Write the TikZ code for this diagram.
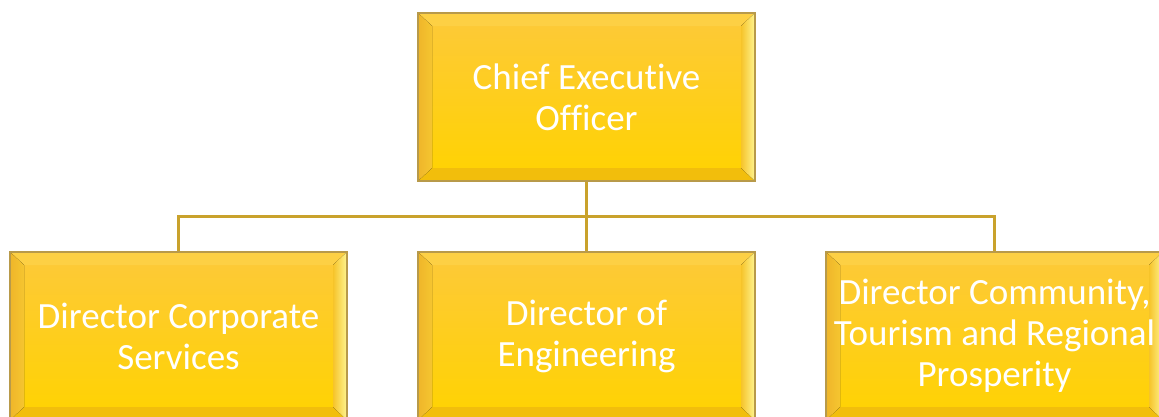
\documentclass[tikz,border=0pt]{standalone}
\usepackage{fontspec}
\setmainfont[Ligatures={NoCommon,NoRequired,NoContextual}]{Carlito}
\definecolor{boxedge}{HTML}{B89A4A}
\definecolor{facetop}{HTML}{FDC93A}
\definecolor{facebot}{HTML}{FFD300}
\definecolor{bevtop}{HTML}{FDD044}
\definecolor{bevbot}{HTML}{F2BE0C}
\definecolor{bevleftout}{HTML}{EFB62A}
\definecolor{bevleftmid}{HTML}{FFE86A}
\definecolor{bevleftin}{HTML}{F5C530}
\definecolor{bevrightin}{HTML}{F6C42A}
\definecolor{bevrightmid}{HTML}{FFF07A}
\definecolor{bevrightout}{HTML}{FFF590}
\definecolor{conncol}{HTML}{C9A22C}
\tikzset{
  bevelbox/.style={
    minimum width=337pt, minimum height=168pt, inner sep=0pt,
    align=center, text=white, font=\fontsize{37}{41}\selectfont,
    draw=boxedge, line width=1.5pt,
    path picture={
      \coordinate (ppA) at (path picture bounding box.north west);
      \coordinate (ppB) at (path picture bounding box.north east);
      \coordinate (ppC) at (path picture bounding box.south east);
      \coordinate (ppD) at (path picture bounding box.south west);
      \coordinate (ppa) at ([shift={(14pt,-13pt)}]ppA);
      \coordinate (ppb) at ([shift={(-14pt,-13pt)}]ppB);
      \coordinate (ppc) at ([shift={(-14pt,13pt)}]ppC);
      \coordinate (ppd) at ([shift={(14pt,13pt)}]ppD);
      \fill[top color=facetop, bottom color=facebot] (ppA) rectangle (ppC);
      \fill[bevtop] (ppA) -- (ppB) -- (ppb) -- (ppa) -- cycle;
      \fill[bevbot] (ppD) -- (ppC) -- (ppc) -- (ppd) -- cycle;
      \fill[left color=bevleftout, middle color=bevleftmid, right color=bevleftin] (ppA) -- (ppa) -- (ppd) -- (ppD) -- cycle;
      \fill[left color=bevrightin, middle color=bevrightmid, right color=bevrightout] (ppB) -- (ppb) -- (ppc) -- (ppC) -- cycle;
    }
  },
  conn/.style={draw=conncol, line width=3pt}
}
\begin{document}
\begin{tikzpicture}[x=1pt,y=-1pt]
\useasboundingbox (0,0) rectangle (1159,416);
\node[bevelbox] (ceo) at (586.5,97) {Chief Executive\\Officer};
\node[bevelbox] (d1) at (178.5,336) {Director Corporate\\Services};
\node[bevelbox] (d2) at (586.5,336) {Director of\\Engineering};
\node[bevelbox] (d3) at (994.5,336) {Director Community,\\Tourism and Regional\\Prosperity};
\coordinate (bar) at (586.5,216);
\draw[conn] (ceo.south) -- (bar);
\draw[conn] (d1.north) |- (bar) -| (d3.north);
\draw[conn] (bar) -- (d2.north);
\end{tikzpicture}
\end{document}
